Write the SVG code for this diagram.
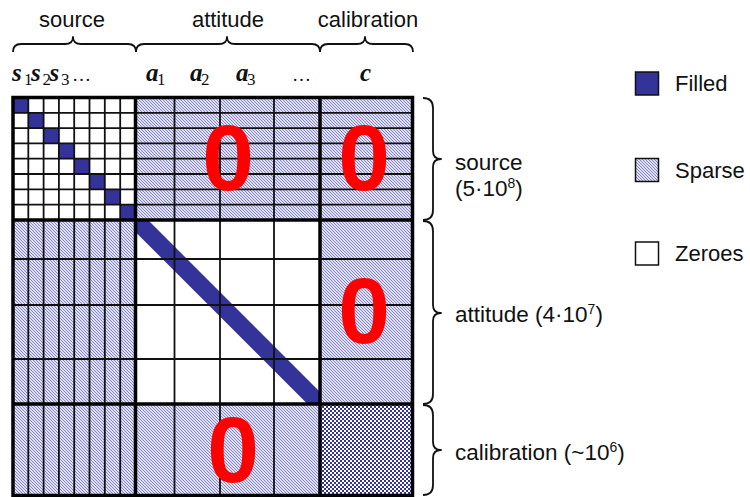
<svg xmlns="http://www.w3.org/2000/svg" width="750" height="497" viewBox="0 0 750 497">
<defs>
<pattern id="sp" width="3" height="3" patternUnits="userSpaceOnUse">
<rect width="3" height="3" fill="#dcdcf2"/>
<rect x="0" y="0" width="1" height="1" fill="#8a8ac6"/>
<rect x="1" y="1" width="1" height="1" fill="#8a8ac6"/>
<rect x="2" y="2" width="1" height="1" fill="#8a8ac6"/>
</pattern>
<pattern id="ck" width="4" height="4" patternUnits="userSpaceOnUse">
<rect width="4" height="4" fill="#ffffff"/>
<rect x="0" y="0" width="2" height="2" fill="#333399"/>
<rect x="2" y="2" width="2" height="2" fill="#333399"/>
</pattern>
</defs>
<style>
.lbl{font-family:"Liberation Sans",Arial,sans-serif;font-size:22px;fill:#111}
.rl{font-family:"Liberation Sans",Arial,sans-serif;font-size:22.5px;fill:#111}
.big{font-family:"Liberation Sans",Arial,sans-serif;font-size:93px;font-weight:bold;fill:#ff0000;text-anchor:middle}
.v{font-family:"Liberation Serif","Times New Roman",serif;font-size:25px;font-weight:bold;font-style:italic;fill:#111}
.sub{font-family:"Liberation Serif","Times New Roman",serif;font-size:17px;fill:#111}
.dots{font-family:"Liberation Serif","Times New Roman",serif;font-size:19px;fill:#111}
.thin{stroke:#111;stroke-width:1.8;fill:none}
.thick{stroke:#000;stroke-width:3.5;fill:none}
.brace{stroke:#111;stroke-width:1.8;fill:none;stroke-linejoin:round}
.blue{fill:#333399}
.sup{font-size:14px}
</style>

<g id="header-labels">
<text class="lbl" x="72" y="27" text-anchor="middle">source</text>
<text class="lbl" x="228" y="27" text-anchor="middle">attitude</text>
<text class="lbl" x="368" y="27" text-anchor="middle">calibration</text>
<path class="brace" d="M13,52 Q13,44 21,44 L65,44 Q73,44 73,37 Q73,44 81,44 L128,44 Q136,44 136,52"/>
<path class="brace" d="M136,52 Q136,44 144,44 L219,44 Q227,44 227,37 Q227,44 235,44 L312,44 Q320,44 320,52"/>
<path class="brace" d="M320,52 Q320,44 328,44 L357,44 Q365,44 365,37 Q365,44 373,44 L405,44 Q413,44 413,52"/>
</g>

<g id="column-labels">
<text class="v" x="12" y="81">s</text><text class="sub" x="24" y="85">1</text>
<text class="v" x="31" y="81">s</text><text class="sub" x="42.5" y="85">2</text>
<text class="v" x="49.5" y="81">s</text><text class="sub" x="61" y="85">3</text>
<text class="dots" x="72" y="81">…</text>
<text class="v" x="146" y="81">a</text><text class="sub" x="157" y="85">1</text>
<text class="v" x="190" y="81">a</text><text class="sub" x="201" y="85">2</text>
<text class="v" x="236" y="81">a</text><text class="sub" x="247" y="85">3</text>
<text class="dots" x="292" y="81">…</text>
<text class="v" x="360" y="81">c</text>
</g>

<g id="matrix">
<rect x="13" y="97.5" width="399.5" height="398" fill="url(#sp)"/>
<rect x="13" y="97.5" width="122.5" height="122.5" fill="#ffffff"/>
<rect x="135.5" y="220" width="184.5" height="184" fill="#ffffff"/>
<rect x="320" y="404" width="92.5" height="91.5" fill="url(#ck)"/>
<g id="diag-cells">
<rect class="blue" x="13" y="97.5" width="15.3" height="15.3"/>
<rect class="blue" x="28.3" y="112.8" width="15.3" height="15.3"/>
<rect class="blue" x="43.6" y="128.1" width="15.3" height="15.3"/>
<rect class="blue" x="58.9" y="143.4" width="15.3" height="15.3"/>
<rect class="blue" x="74.2" y="158.7" width="15.3" height="15.3"/>
<rect class="blue" x="89.5" y="174" width="15.3" height="15.3"/>
<rect class="blue" x="104.8" y="189.3" width="15.3" height="15.3"/>
<rect class="blue" x="120.2" y="204.7" width="15.3" height="15.3"/>
</g>
<polygon id="diag-band" class="blue" points="135.5,220 148,220 320,392 320,404 307.5,404 135.5,232"/>
<g id="grid-thin">
<path class="thin" d="M28.3,97.5V495.5 M43.6,97.5V495.5 M58.9,97.5V495.5 M74.2,97.5V495.5 M89.5,97.5V495.5 M104.8,97.5V495.5 M120.2,97.5V495.5 M174.5,97.5V404 M220,97.5V404 M274,97.5V404 M174.5,404V495.5 M220,404V495.5 M274,404V495.5"/>
<path class="thin" d="M13,112.8H412.5 M13,128.1H412.5 M13,143.4H412.5 M13,158.7H412.5 M13,174H412.5 M13,189.3H412.5 M13,204.7H412.5 M13,259H412.5 M13,305H412.5 M13,359H412.5"/>
</g>
<g id="grid-thick">
<path class="thick" d="M135.5,97.5V495.5 M320,97.5V495.5 M13,220H412.5 M13,404H412.5"/>
<rect class="thick" x="13" y="97.5" width="399.5" height="398"/>
</g>
<g id="zeros">
<text class="big" x="228" y="190">0</text>
<text class="big" x="364" y="190">0</text>
<text class="big" x="364" y="343">0</text>
<text class="big" x="233" y="482">0</text>
</g>
</g>

<g id="row-labels">
<path class="brace" d="M423,98 Q433,98 433,108 L433,151 Q433,159 441,159 Q433,159 433,167 L433,210 Q433,220 423,220"/>
<path class="brace" d="M423,221 Q433,221 433,231 L433,305 Q433,313 441,313 Q433,313 433,321 L433,394 Q433,404 423,404"/>
<path class="brace" d="M423,405 Q433,405 433,415 L433,442 Q433,450 441,450 Q433,450 433,458 L433,485 Q433,495 423,495"/>
<text class="rl" x="455" y="170">source</text>
<text class="rl" x="455" y="196">(5·10<tspan class="sup" dy="-8">8</tspan><tspan dy="8">)</tspan></text>
<text class="rl" x="455" y="322">attitude (4·10<tspan class="sup" dy="-8">7</tspan><tspan dy="8">)</tspan></text>
<text class="rl" x="455" y="460">calibration (~10<tspan class="sup" dy="-8">6</tspan><tspan dy="8">)</tspan></text>
</g>

<g id="legend">
<g id="legend-filled"><rect x="635.5" y="72" width="23" height="23" fill="#333399" stroke="#111" stroke-width="1.5"/><text class="lbl" x="675" y="91">Filled</text></g>
<g id="legend-sparse"><rect x="635.5" y="158.5" width="23" height="23" fill="url(#sp)" stroke="#111" stroke-width="1.5"/><text class="lbl" x="675" y="178">Sparse</text></g>
<g id="legend-zeroes"><rect x="635.5" y="242" width="23" height="23" fill="#ffffff" stroke="#111" stroke-width="1.5"/><text class="lbl" x="675" y="261">Zeroes</text></g>
</g>
</svg>
